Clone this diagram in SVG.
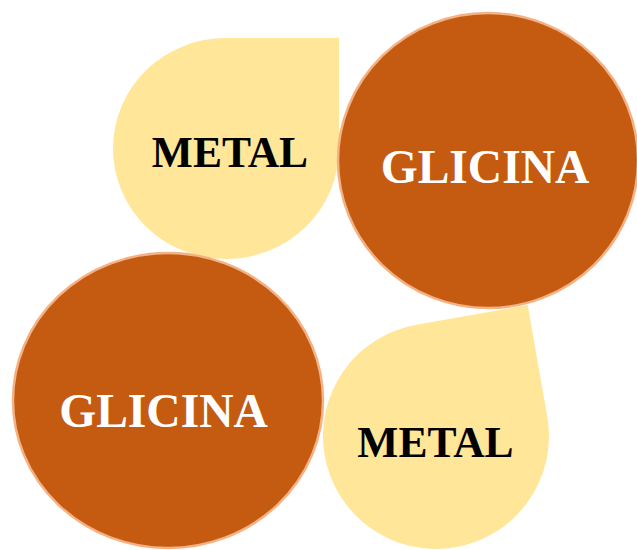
<svg xmlns="http://www.w3.org/2000/svg" width="637" height="550" viewBox="0 0 637 550">
  <style>
    .drop { fill: #FFE699; stroke: none; }
    .circ { fill: #C55A11; stroke: #F4B183; stroke-width: 2.5; }
    .lbl { font-family: "Liberation Serif", "Times New Roman", serif; font-weight: bold; text-anchor: middle; }
    .dark { fill: #000000; font-size: 43.5px; }
    .light { fill: #FFFFFF; font-size: 47.5px; }
  </style>
  <rect width="637" height="550" fill="#FFFFFF"/>
  <g id="metal-top">
    <path class="drop" d="M 226 38 H 339 V 148.5 A 113 110.5 0 1 1 226 38 Z"/>
    <text class="lbl dark" x="230" y="167">METAL</text>
  </g>
  <g id="metal-bottom">
    <path class="drop" transform="translate(436,436) rotate(-10)" d="M 0 -113 H 113 V 0 A 113 113 0 1 1 0 -113 Z"/>
    <text class="lbl dark" x="435.5" y="457">METAL</text>
  </g>
  <g id="glicina-top">
    <ellipse class="circ" cx="488" cy="160.5" rx="150" ry="147.5"/>
    <text class="lbl light" x="485" y="183">GLICINA</text>
  </g>
  <g id="glicina-bottom">
    <ellipse class="circ" cx="168" cy="400.5" rx="155" ry="147.5"/>
    <text class="lbl light" x="163.5" y="427">GLICINA</text>
  </g>
  <g id="connectors"></g>
</svg>
